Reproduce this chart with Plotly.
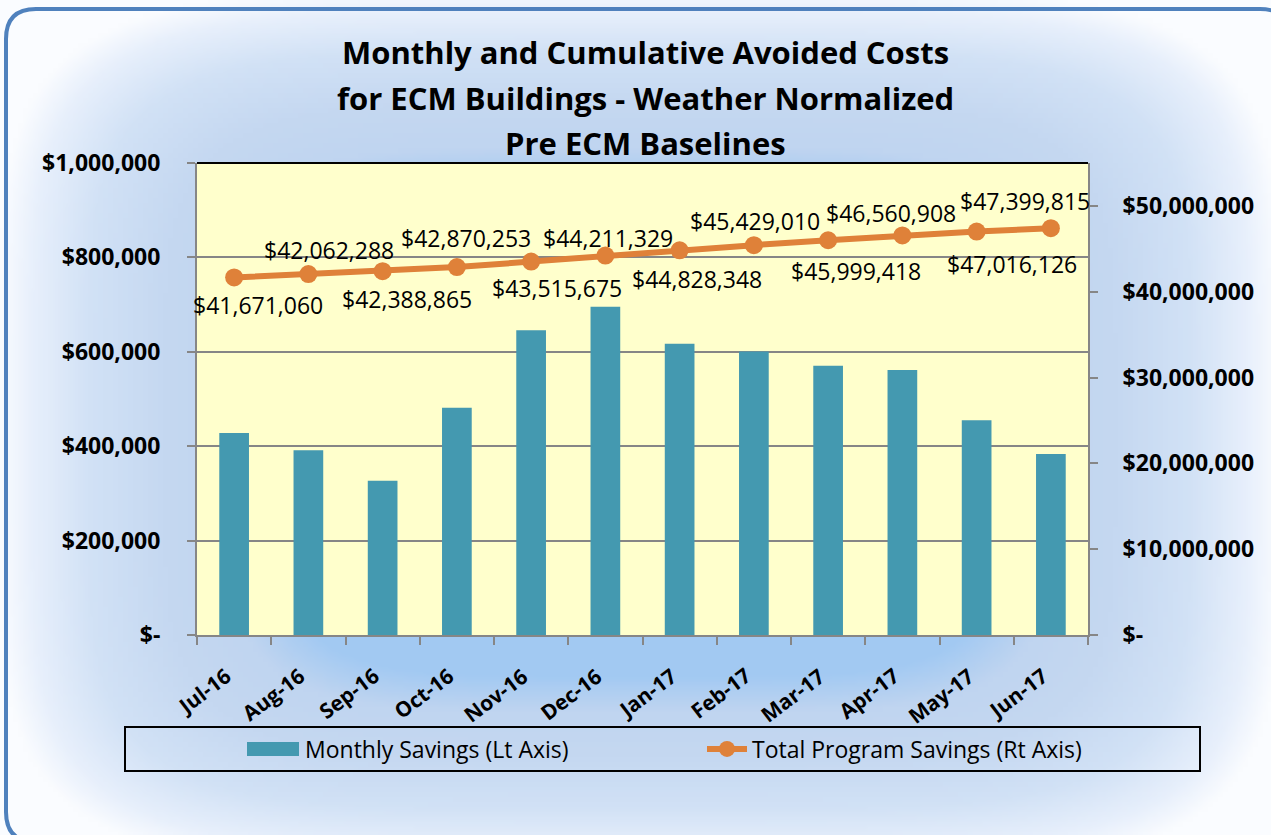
import base64, struct, zlib
import numpy as np
import plotly.graph_objects as go

# ---------------- data ----------------
months = ["Jul-16", "Aug-16", "Sep-16", "Oct-16", "Nov-16", "Dec-16",
          "Jan-17", "Feb-17", "Mar-17", "Apr-17", "May-17", "Jun-17"]
monthly_savings = [428000, 391228, 326577, 481388, 645422, 695654,
                   617019, 600662, 570408, 561490, 455218, 383689]
total_savings = [41671060, 42062288, 42388865, 42870253, 43515675, 44211329,
                 44828348, 45429010, 45999418, 46560908, 47016126, 47399815]
left_ticks = [0, 200000, 400000, 600000, 800000, 1000000]
left_ticktext = ["$-", "$200,000", "$400,000", "$600,000", "$800,000", "$1,000,000"]
right_ticks = [0, 10000000, 20000000, 30000000, 40000000, 50000000]
right_ticktext = ["$-", "$10,000,000", "$20,000,000", "$30,000,000", "$40,000,000", "$50,000,000"]
title_lines = ["Monthly and Cumulative Avoided Costs",
               "for ECM Buildings - Weather Normalized",
               "Pre ECM Baselines"]

# ---------------- styling / geometry ----------------
W, H = 1271, 835
L, R, T, B = 197, 1088, 163, 635
PW, PH = R - L, B - T

def px(X):
    return (X - L) / PW

def py(Y):
    return (B - Y) / PH

FONT = "Open Sans"
BAR = "#4499B0"
LINE = "#DF8139"
GRID = "#868686"

# per-label pixel offsets of the data labels (as placed in the original)
label_xshift = [24, 21, 24, 9, 26, 3, 17, 1, 28, -11, 35, -26]
label_yshift = [-28, 24, -28, 29, -26, 18, -29, 24, -31, 22, -32, 27]

# ---------------- background gradient image ----------------
def make_png(arr):
    h, w, _ = arr.shape
    raw = b"".join(b"\x00" + arr[i].tobytes() for i in range(h))
    def chunk(tag, data):
        c = tag + data
        return struct.pack(">I", len(data)) + c + struct.pack(">I", zlib.crc32(c) & 0xffffffff)
    png = b"\x89PNG\r\n\x1a\n"
    png += chunk(b"IHDR", struct.pack(">IIBBBBB", w, h, 8, 2, 0, 0, 0))
    png += chunk(b"IDAT", zlib.compress(raw, 9))
    png += chunk(b"IEND", b"")
    return "data:image/png;base64," + base64.b64encode(png).decode()

gw, gh = 254, 167
gx = (np.arange(gw) + 0.5) / gw * W
gy = (np.arange(gh) + 0.5) / gh * H
XX, YY = np.meshgrid(gx, gy)
dx = np.abs(XX - 640) / 640
dy = np.abs(YY - 430) / 440
p = 5
d = (dx ** p + dy ** p) ** (1 / p)
stops = [0.0, 0.56, 0.64, 0.74, 0.86, 0.95, 1.0]
cr = [160, 163, 192, 197, 210, 232, 250]
cg = [200, 202, 213, 216, 226, 240, 252]
cb = [242, 243, 240, 241, 246, 252, 255]
img = np.stack([np.interp(d, stops, cr), np.interp(d, stops, cg), np.interp(d, stops, cb)], axis=-1)
img = np.clip(img, 0, 255).astype(np.uint8)
bg_uri = make_png(img)

# ---------------- figure ----------------
fig = go.Figure()
fig.add_trace(go.Bar(
    x=months, y=monthly_savings, name="Monthly Savings (Lt Axis)",
    marker=dict(color=BAR, line=dict(width=0)), yaxis="y",
    legendwidth=392,
))
fig.add_trace(go.Scatter(
    x=months, y=total_savings, name="Total Program Savings (Rt Axis)",
    mode="lines+markers", yaxis="y2",
    line=dict(color=LINE, width=6),
    marker=dict(color=LINE, size=18),
    legendwidth=340,
))

annotations = []
for m, v, xs, ys in zip(months, total_savings, label_xshift, label_yshift):
    annotations.append(dict(
        x=m, y=v, xref="x", yref="y2", text="$" + f"{v:,}", showarrow=False,
        xshift=xs, yshift=ys,
        font=dict(family=FONT, size=23, color="black"),
    ))
# category labels (rotated)
for m in months:
    annotations.append(dict(
        x=m, y=py(659), xref="x", yref="paper", text=m, showarrow=False,
        textangle=-37, xanchor="right", yanchor="top", xshift=5,
        font=dict(family=FONT, size=21, color="black", weight="bold"),
    ))
for t, yc in zip(title_lines, [52, 98, 143]):
    annotations.append(dict(
        x=px(645), y=py(yc), xref="paper", yref="paper", text=t, showarrow=False,
        xanchor="center", yanchor="middle",
        font=dict(family=FONT, size=31, color="black", weight="bold"),
    ))

# rounded border path
x0, y0, x1, y1, r = 6, 9, 1290, 842, 30
path = (f"M {px(x0 + r)},{py(y0)} L {px(x1 - r)},{py(y0)} "
        f"Q {px(x1)},{py(y0)} {px(x1)},{py(y0 + r)} L {px(x1)},{py(y1 - r)} "
        f"Q {px(x1)},{py(y1)} {px(x1 - r)},{py(y1)} L {px(x0 + r)},{py(y1)} "
        f"Q {px(x0)},{py(y1)} {px(x0)},{py(y1 - r)} L {px(x0)},{py(y0 + r)} "
        f"Q {px(x0)},{py(y0)} {px(x0 + r)},{py(y0)} Z")

shapes = [
    dict(type="rect", xref="paper", yref="paper", x0=0, x1=1, y0=0, y1=1,
         fillcolor="#FFFFCC", line=dict(width=0), layer="below"),
    dict(type="path", path=path, xref="paper", yref="paper",
         line=dict(color="#4F81BD", width=4), fillcolor="rgba(0,0,0,0)", layer="above"),
    dict(type="line", xref="paper", yref="paper", x0=0, x1=1, y0=1, y1=1,
         line=dict(color="black", width=2)),
    dict(type="rect", xref="paper", yref="paper", x0=px(125), x1=px(1200), y0=py(727), y1=py(771),
         line=dict(color="black", width=2), fillcolor="rgba(0,0,0,0)"),
    # wide legend swatch for the bar series
    dict(type="rect", xref="paper", yref="paper", x0=px(247), x1=px(299), y0=py(742), y1=py(756),
         line=dict(width=0), fillcolor=BAR),
]

fig.update_layout(
    width=W, height=H,
    margin=dict(l=L, r=W - R, t=T, b=H - B),
    paper_bgcolor="white",
    plot_bgcolor="#FFFFCC",
    font=dict(family=FONT, color="black"),
    showlegend=True,
    bargap=0.6,
    legend=dict(orientation="h", x=px(255), y=py(749), xanchor="left", yanchor="middle",
                bgcolor="rgba(0,0,0,0)", borderwidth=0,
                font=dict(family=FONT, size=23, color="black"),
                itemwidth=40),
    xaxis=dict(type="category", range=[-0.5, 11.5], tickson="boundaries", ticks="outside",
               ticklen=8, tickcolor=GRID, tickwidth=2, showline=True, linecolor=GRID,
               linewidth=2, showticklabels=False, showgrid=False),
    yaxis=dict(range=[0, 1000000], tickvals=left_ticks, ticktext=left_ticktext,
               ticks="outside", ticklen=8, tickcolor=GRID, tickwidth=2,
               showline=True, linecolor=GRID, linewidth=2,
               showgrid=True, gridcolor=GRID, gridwidth=2, zeroline=False,
               tickfont=dict(family=FONT, size=23, weight="bold"), ticklabelstandoff=22),
    yaxis2=dict(range=[0, 55000000], tickvals=right_ticks, ticktext=right_ticktext,
                overlaying="y", side="right", ticks="outside", ticklen=8, tickcolor=GRID,
                tickwidth=2, showline=True, linecolor=GRID, linewidth=2,
                showgrid=False, zeroline=False,
                tickfont=dict(family=FONT, size=23, weight="bold"), ticklabelstandoff=20),
    annotations=annotations,
    shapes=shapes,
    images=[dict(source=bg_uri, xref="paper", yref="paper", x=px(0), y=py(0),
                 sizex=W / PW, sizey=H / PH, sizing="stretch", xanchor="left",
                 yanchor="top", layer="below")],
)

fig.write_html("out.html")
